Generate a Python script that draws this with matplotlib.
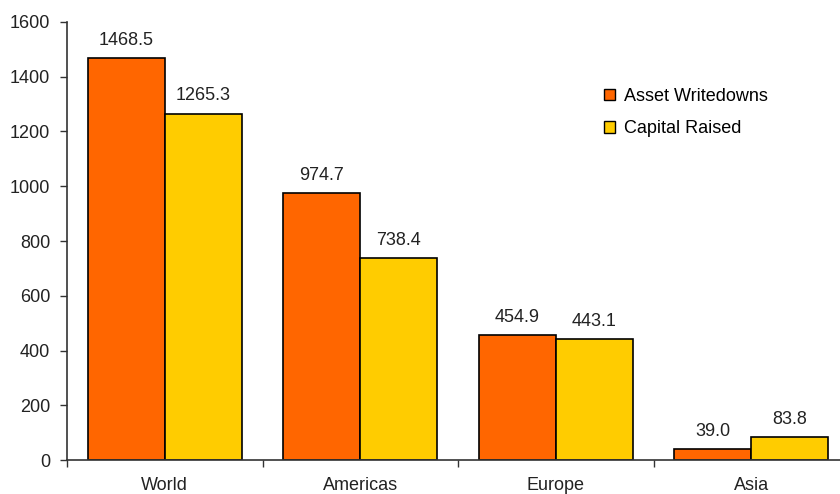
import matplotlib
matplotlib.use("Agg")
import matplotlib.pyplot as plt
import numpy as np

categories = ["World", "Americas", "Europe", "Asia"]
asset_writedowns = [1468.5, 974.7, 454.9, 39.0]
capital_raised = [1265.3, 738.4, 443.1, 83.8]
series_names = ["Asset Writedowns", "Capital Raised"]
yticks = [0, 200, 400, 600, 800, 1000, 1200, 1400, 1600]

plt.rcParams['font.family'] = ['Liberation Sans', 'DejaVu Sans']
FS = 13

fig = plt.figure(figsize=(8.4, 4.94), dpi=100)
ax = fig.add_axes([67/840, 34/494, 782/840, 438/494])

x = np.arange(len(categories))
w = 0.395
orange = "#FF6600"
yellow = "#FFCC00"
b1 = ax.bar(x - w/2, asset_writedowns, w, color=orange, edgecolor="black", linewidth=1.2, label=series_names[0])
b2 = ax.bar(x + w/2, capital_raised, w, color=yellow, edgecolor="black", linewidth=1.2, label=series_names[1])

for bars, vals in ((b1, asset_writedowns), (b2, capital_raised)):
    for rect, v in zip(bars, vals):
        ax.annotate(f"{v:.1f}", (rect.get_x() + rect.get_width()/2, rect.get_height()),
                    xytext=(0, 9.5), textcoords="offset points", ha="center", va="baseline",
                    fontsize=FS, color="#222222")

ax.set_xlim(-0.5, len(categories) - 0.5)
ax.set_ylim(0, 1600)
ax.set_yticks(yticks)
ax.set_yticklabels([str(t) for t in yticks])
ax.set_xticks(x)
ax.set_xticklabels(categories)
ax.set_xticks(np.arange(len(categories) + 1) - 0.5, minor=True)
ax.tick_params(axis="x", which="major", length=0, pad=12, labelsize=FS, labelcolor="#222222")
ax.tick_params(axis="x", which="minor", length=5, width=1, color="#333333", direction="out")
ax.tick_params(axis="y", length=5, width=1, color="#333333", labelsize=FS, labelcolor="#222222", pad=7)

for s in ("top", "right"):
    ax.spines[s].set_visible(False)
for s in ("left", "bottom"):
    ax.spines[s].set_color("#333333")
    ax.spines[s].set_linewidth(1.2)

leg = ax.legend(loc="upper left", bbox_to_anchor=(595/840, 1 - 79/494), bbox_transform=fig.transFigure,
                frameon=False, fontsize=FS, handlelength=0.6, handleheight=0.6,
                handletextpad=0.5, labelspacing=0.85, borderpad=0)
for h in leg.legend_handles:
    h.set_linewidth(1.0)

fig.savefig("out.png", dpi=100)
